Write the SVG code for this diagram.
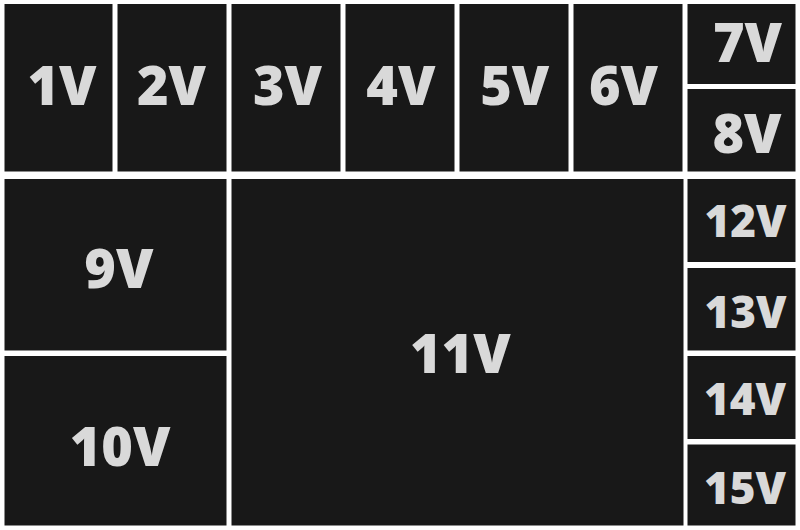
<svg xmlns="http://www.w3.org/2000/svg" width="800" height="530" viewBox="0 0 800 530">
<style>
.t{fill:#181818}
.l{fill:#d9d9d9;font-family:"Open Sans","DejaVu Sans",sans-serif;font-weight:800;font-size:54px;text-anchor:middle}
.s{font-size:44px}
</style>
<rect width="800" height="530" fill="#ffffff"/>
<g id="n1"><rect class="t" x="4.5" y="4" width="108" height="167.5"/><text class="l" x="62" y="105">1V</text></g>
<g id="n2"><rect class="t" x="117.5" y="4" width="109" height="167.5"/><text class="l" x="171.5" y="105">2V</text></g>
<g id="n3"><rect class="t" x="231.5" y="4" width="109" height="167.5"/><text class="l" x="287.5" y="105">3V</text></g>
<g id="n4"><rect class="t" x="345.5" y="4" width="109" height="167.5"/><text class="l" x="400.8" y="105">4V</text></g>
<g id="n5"><rect class="t" x="459.5" y="4" width="109" height="167.5"/><text class="l" x="514.7" y="105">5V</text></g>
<g id="n6"><rect class="t" x="573.5" y="4" width="109" height="167.5"/><text class="l" x="623.5" y="105">6V</text></g>
<g id="n7"><rect class="t" x="687.5" y="4" width="108" height="80"/><text class="l" x="747.5" y="61.7">7V</text></g>
<g id="n8"><rect class="t" x="687.5" y="89" width="108" height="82.5"/><text class="l" x="747" y="153.3">8V</text></g>
<g id="n9"><rect class="t" x="4.5" y="179" width="222" height="171.5"/><text class="l" x="118.8" y="288.3">9V</text></g>
<g id="n10"><rect class="t" x="4.5" y="356" width="222" height="169.5"/><text class="l" x="120" y="466">10V</text></g>
<g id="n11"><rect class="t" x="231.5" y="179" width="452" height="346.5"/><text class="l" x="460.3" y="373.3">11V</text></g>
<g id="n12"><rect class="t" x="687.5" y="179" width="108" height="83"/><text class="l s" x="745.5" y="236.7">12V</text></g>
<g id="n13"><rect class="t" x="687.5" y="268" width="108" height="82.5"/><text class="l s" x="745.5" y="328.3">13V</text></g>
<g id="n14"><rect class="t" x="687.5" y="356" width="108" height="83"/><text class="l s" x="745" y="415">14V</text></g>
<g id="n15"><rect class="t" x="687.5" y="444.5" width="108" height="81"/><text class="l s" x="745" y="504">15V</text></g>
<g id="connectors"/>
</svg>
